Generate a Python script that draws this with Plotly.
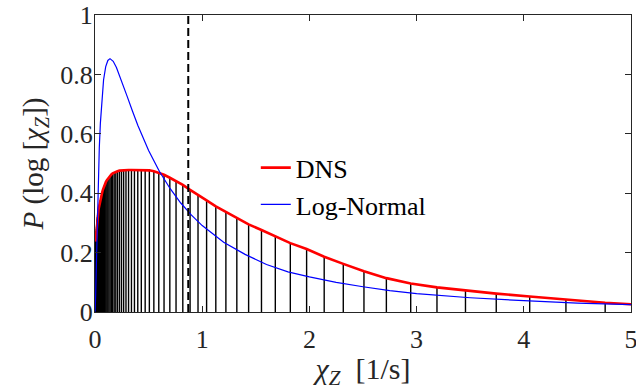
import plotly.graph_objects as go

# DNS histogram bin centres (log-spaced) and values
dns_x = [0.00574, 0.00622, 0.00674, 0.00730, 0.00791, 0.00857, 0.00928, 0.01005, 0.0109, 0.0118,
         0.0128, 0.0138, 0.0150, 0.0162, 0.0176, 0.0191, 0.0207, 0.0224, 0.0242, 0.0263,
         0.0284, 0.0308, 0.0334, 0.0362, 0.0392, 0.0424, 0.0460, 0.0498, 0.0539, 0.0584,
         0.0633, 0.0686, 0.0743, 0.0805, 0.0872, 0.0944, 0.102, 0.111, 0.120, 0.130,
         0.141, 0.153, 0.165, 0.179, 0.194, 0.210, 0.228, 0.247, 0.267, 0.289,
         0.313, 0.340, 0.368, 0.399, 0.432, 0.468, 0.507, 0.549, 0.595, 0.644,
         0.698, 0.756, 0.819, 0.887, 0.961, 1.041, 1.127, 1.221, 1.323, 1.433,
         1.553, 1.682, 1.822, 1.974, 2.138, 2.316, 2.509, 2.718, 2.945, 3.190,
         3.456, 3.743, 4.055, 4.393, 4.759, 5.155]
dns_y = [0.237, 0.239, 0.242, 0.245, 0.248, 0.252, 0.257, 0.262, 0.267, 0.273,
         0.279, 0.285, 0.291, 0.297, 0.303, 0.309, 0.315, 0.320, 0.326, 0.331,
         0.336, 0.341, 0.346, 0.351, 0.357, 0.363, 0.370, 0.377, 0.384, 0.391,
         0.398, 0.405, 0.412, 0.419, 0.426, 0.432, 0.438, 0.444, 0.449, 0.454,
         0.459, 0.463, 0.467, 0.470, 0.472, 0.474, 0.476, 0.477, 0.477, 0.478,
         0.478, 0.478, 0.478, 0.478, 0.478, 0.478, 0.477, 0.474, 0.469, 0.462,
         0.452, 0.441, 0.428, 0.411, 0.395, 0.376, 0.356, 0.337, 0.315, 0.295,
         0.276, 0.254, 0.232, 0.212, 0.186, 0.162, 0.137, 0.114, 0.096, 0.083,
         0.072, 0.062, 0.052, 0.041, 0.031, 0.023]

# Log-normal fit
ln_x = [0.001, 0.002, 0.003, 0.004, 0.006, 0.008, 0.010, 0.012, 0.015, 0.020,
        0.030, 0.040, 0.050, 0.065, 0.080, 0.100, 0.120, 0.140, 0.170, 0.200,
        0.250, 0.300, 0.350, 0.400, 0.500, 0.600, 0.700, 0.800, 0.900, 1.000,
        1.200, 1.400, 1.600, 1.800, 2.000, 2.250, 2.500, 2.750, 3.000, 3.500,
        4.000, 4.500, 5.000]
ln_y = [0.001, 0.006, 0.014, 0.026, 0.054, 0.088, 0.123, 0.160, 0.213, 0.298,
        0.441, 0.552, 0.635, 0.725, 0.782, 0.826, 0.847, 0.853, 0.844, 0.823,
        0.777, 0.726, 0.676, 0.628, 0.544, 0.474, 0.416, 0.367, 0.326, 0.291,
        0.235, 0.194, 0.160, 0.135, 0.118, 0.100, 0.085, 0.072, 0.062, 0.048,
        0.038, 0.030, 0.025]

threshold_x = 0.87

x_ticks = [0, 1, 2, 3, 4, 5]
y_ticks = [0, 0.2, 0.4, 0.6, 0.8, 1]

assert len(dns_x) == len(dns_y)
assert len(ln_x) == len(ln_y)

SERIF = "Liberation Serif"

stem_x, stem_y = [], []
for xv, yv in zip(dns_x, dns_y):
    stem_x += [xv, xv, None]
    stem_y += [0, yv, None]

fig = go.Figure()
fig.add_trace(go.Scatter(x=stem_x, y=stem_y, mode="lines",
                         line=dict(color="black", width=1.4), showlegend=False,
                         hoverinfo="skip"))
fig.add_trace(go.Scatter(x=dns_x, y=dns_y, mode="lines", name="DNS",
                         line=dict(color="#ff0000", width=2.6)))
fig.add_trace(go.Scatter(x=ln_x, y=ln_y, mode="lines", name="Log-Normal",
                         line=dict(color="#0000ff", width=1.2)))

fig.add_shape(type="line", x0=threshold_x, x1=threshold_x, y0=0, y1=1,
              xref="x", yref="y", line=dict(color="black", width=2, dash="8px,4px"),
              layer="above")

axis_common = dict(showline=True, linecolor="#262626", linewidth=1, mirror="ticks",
                   ticks="inside", ticklen=6, tickcolor="#262626", showgrid=False,
                   zeroline=False, automargin=False, ticklabeloverflow="allow",
                   tickfont=dict(family=SERIF, size=26, color="#262626"))

fig.update_layout(
    width=636, height=390,
    margin=dict(l=95, r=5, t=15, b=78),
    paper_bgcolor="white", plot_bgcolor="white",
    font=dict(family=SERIF, color="#262626"),
    xaxis=dict(range=[0, 5], tickvals=x_ticks, ticktext=[str(v) for v in x_ticks],
               ticklabelstandoff=4,
               title=dict(text="<i>χ<sub>Z</sub></i>&nbsp;&nbsp;[1/s]", font=dict(family=SERIF, size=30), standoff=4),
               **axis_common),
    yaxis=dict(range=[0, 1], tickvals=y_ticks, ticktext=["0", "0.2", "0.4", "0.6", "0.8", "1"],
               ticklabelstandoff=-4,
               title=dict(text="<i>P</i> (log [<i>χ<sub>Z</sub></i>])", font=dict(family=SERIF, size=29), standoff=8),
               **axis_common),
    legend=dict(x=0.30, y=0.565, xanchor="left", yanchor="top",
                font=dict(family=SERIF, size=26, color="black"),
                bgcolor="rgba(0,0,0,0)"),
    showlegend=True,
)

fig.write_html("out.html")
